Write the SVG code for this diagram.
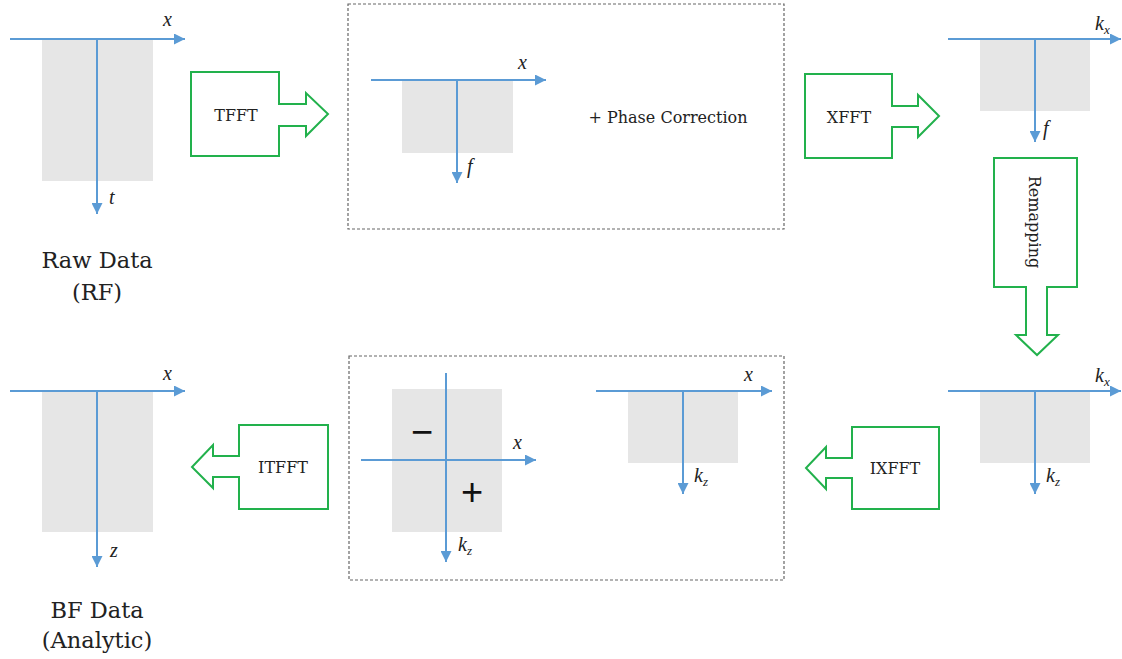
<svg xmlns="http://www.w3.org/2000/svg" width="1122" height="659" viewBox="0 0 1122 659">
<defs>
<marker id="ah" viewBox="0 0 10 10" refX="10" refY="5" markerWidth="5.5" markerHeight="5.5" markerUnits="strokeWidth" orient="auto">
<path d="M0,0 L10,5 L0,10 z" fill="#5b9bd5"/>
</marker>
<style>
.ax{stroke:#5b9bd5;stroke-width:2;fill:none;marker-end:url(#ah)}
.bg{fill:#e6e6e6}
.blk{fill:none;stroke:#22b14c;stroke-width:2}
.dash{fill:none;stroke:#666;stroke-width:1.2;stroke-dasharray:3,2}
.lab{font-family:"Liberation Serif","DejaVu Serif",serif;font-style:italic;font-size:20px;fill:#222}
.sub{font-size:13px}
.op{font-family:"DejaVu Serif","Liberation Serif",serif;font-size:16px;fill:#222;text-anchor:middle}
.big{font-family:"DejaVu Serif","Liberation Serif",serif;font-size:22.5px;fill:#222;text-anchor:middle}
.sign{font-family:"Liberation Sans","DejaVu Sans",sans-serif;font-size:38px;fill:#111;text-anchor:middle}
</style>
</defs>

<g id="raw-data">
<rect class="bg" x="42" y="39" width="111" height="142"/>
<line class="ax" x1="10" y1="39" x2="185" y2="39"/>
<line class="ax" x1="97" y1="39" x2="97" y2="214"/>
<text class="lab" x="163" y="26">x</text>
<text class="lab" x="109" y="204">t</text>
<text class="big" x="97" y="268">Raw Data</text>
<text class="big" x="97" y="300">(RF)</text>
</g>

<g id="tfft">
<path class="blk" d="M191,72 H279 V104 H306 V93 L328,114 L306,136 V126 H279 V156 H191 Z"/>
<text class="op" x="236" y="121">TFFT</text>
</g>

<g id="phase-correction">
<rect class="dash" x="348" y="4" width="436" height="225"/>
<rect class="bg" x="402" y="80" width="111" height="73"/>
<line class="ax" x1="371" y1="80" x2="546" y2="80"/>
<line class="ax" x1="457" y1="80" x2="457" y2="183"/>
<text class="lab" x="518" y="69">x</text>
<text class="lab" x="467" y="173">f</text>
<text class="op" x="668" y="123">+ Phase Correction</text>
</g>

<g id="xfft">
<path class="blk" d="M805,74 H892 V106 H918 V95 L939,116 L918,137 V127 H892 V158 H805 Z"/>
<text class="op" x="849" y="123">XFFT</text>
</g>

<g id="kx-f">
<rect class="bg" x="980" y="39" width="110" height="72"/>
<line class="ax" x1="948" y1="39" x2="1121" y2="39"/>
<line class="ax" x1="1035" y1="39" x2="1035" y2="142"/>
<text class="lab" x="1095" y="30">k<tspan class="sub" dy="4">x</tspan></text>
<text class="lab" x="1043" y="135">f</text>
</g>

<g id="remapping">
<path class="blk" d="M994,158 H1077 V287 H1047 V335 H1058 L1037,355 L1016,335 H1026 V287 H994 Z"/>
<text class="op" transform="translate(1029,222) rotate(90)">Remapping</text>
</g>

<g id="kx-kz">
<rect class="bg" x="980" y="391" width="110" height="72"/>
<line class="ax" x1="948" y1="391" x2="1121" y2="391"/>
<line class="ax" x1="1035" y1="391" x2="1035" y2="494"/>
<text class="lab" x="1095" y="382">k<tspan class="sub" dy="4">x</tspan></text>
<text class="lab" x="1046" y="482">k<tspan class="sub" dy="4">z</tspan></text>
</g>

<g id="ixfft">
<path class="blk" d="M939,427 H852 V458 H826 V447 L806,468 L826,489 V478 H852 V509 H939 Z"/>
<text class="op" x="895" y="474">IXFFT</text>
</g>

<g id="shift">
<rect class="dash" x="349" y="356" width="435" height="224"/>
<rect class="bg" x="392" y="389" width="110" height="143"/>
<line class="ax" x1="361" y1="460" x2="536" y2="460"/>
<line class="ax" x1="446" y1="373" x2="446" y2="562"/>
<text class="lab" x="513" y="449">x</text>
<text class="lab" x="458" y="551">k<tspan class="sub" dy="4">z</tspan></text>
<text class="sign" x="422" y="445">−</text>
<text class="sign" x="472" y="505">+</text>
<rect class="bg" x="628" y="391" width="110" height="72"/>
<line class="ax" x1="596" y1="391" x2="772" y2="391"/>
<line class="ax" x1="683" y1="391" x2="683" y2="494"/>
<text class="lab" x="744" y="381">x</text>
<text class="lab" x="694" y="482">k<tspan class="sub" dy="4">z</tspan></text>
</g>

<g id="itfft">
<path class="blk" d="M328,425 H239 V456 H213 V445 L192,467 L213,488 V477 H239 V509 H328 Z"/>
<text class="op" x="283" y="473">ITFFT</text>
</g>

<g id="bf-data">
<rect class="bg" x="42" y="391" width="111" height="141"/>
<line class="ax" x1="10" y1="391" x2="185" y2="391"/>
<line class="ax" x1="97" y1="391" x2="97" y2="567"/>
<text class="lab" x="163" y="380">x</text>
<text class="lab" x="110" y="557">z</text>
<text class="big" x="97" y="618">BF Data</text>
<text class="big" x="97" y="648">(Analytic)</text>
</g>

<g id="connectors"></g>
</svg>
